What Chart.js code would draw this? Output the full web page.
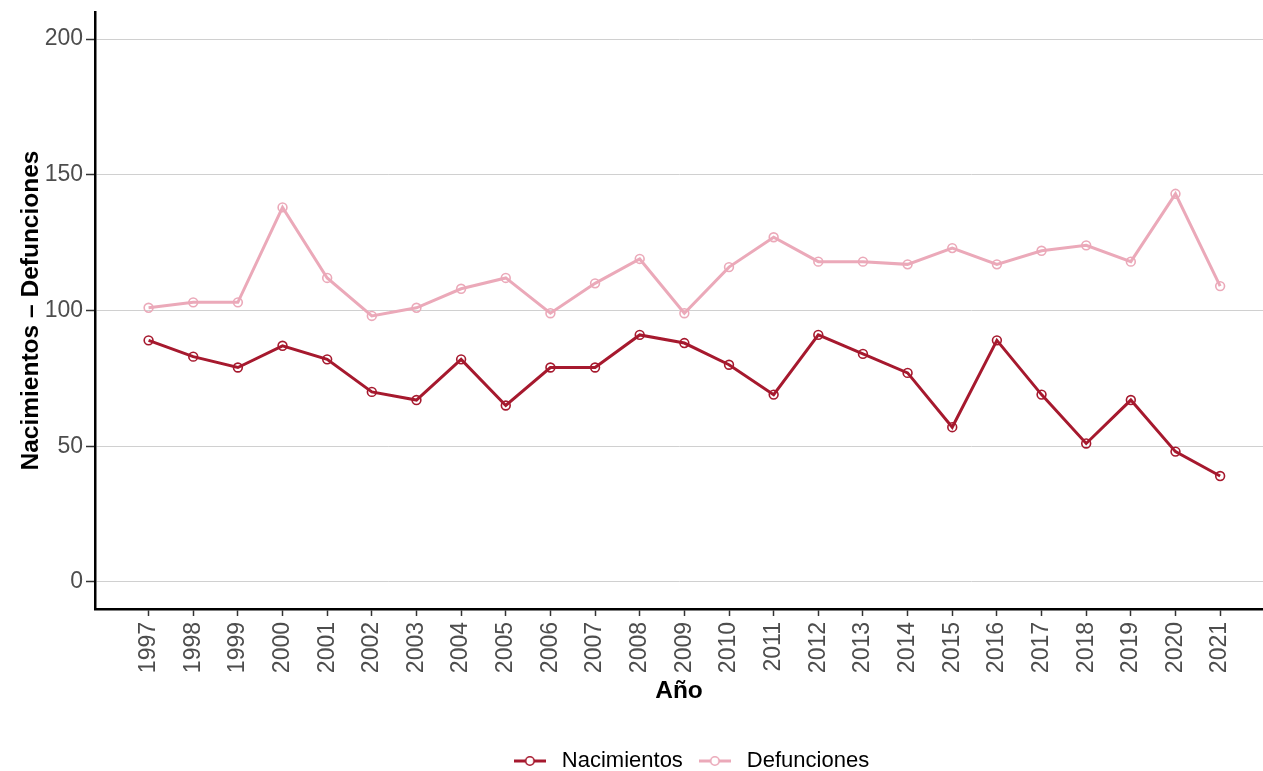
<!DOCTYPE html>
<html>
<head>
<meta charset="utf-8">
<script src="https://cdn.jsdelivr.net/npm/chart.js@4/dist/chart.umd.min.js"></script>
<style>
  html, body { margin: 0; padding: 0; background: #fff; }
  #wrap { width: 1263px; height: 771px; }
</style>
</head>
<body>
<div id="wrap"><canvas id="chart" width="1263" height="771"></canvas></div>
<script>
// data
var years = [1997, 1998, 1999, 2000, 2001, 2002, 2003, 2004, 2005, 2006, 2007, 2008, 2009,
             2010, 2011, 2012, 2013, 2014, 2015, 2016, 2017, 2018, 2019, 2020, 2021];
var nacimientos = [89, 83, 79, 87, 82, 70, 67, 82, 65, 79, 79, 91, 88,
                   80, 69, 91, 84, 77, 57, 89, 69, 51, 67, 48, 39];
var defunciones = [101, 103, 103, 138, 112, 98, 101, 108, 112, 99, 110, 119, 99,
                   116, 127, 118, 118, 117, 123, 117, 122, 124, 118, 143, 109];
var yTicks = [0, 50, 100, 150, 200];

var colNac = '#A6192E';
var colDef = '#EBA9B9';

function points(vals) {
    return vals.map(function (v, i) { return { x: years[i], y: v }; });
}

// line + circle glyph for the legend
function legendGlyph(color) {
    var c = document.createElement('canvas');
    c.width = 32; c.height = 14;
    var g = c.getContext('2d');
    g.strokeStyle = color;
    g.lineWidth = 3;
    g.beginPath(); g.moveTo(0, 7); g.lineTo(32, 7); g.stroke();
    g.fillStyle = '#fff';
    g.lineWidth = 1.6;
    g.beginPath(); g.arc(16, 7, 4.2, 0, Math.PI * 2); g.fill(); g.stroke();
    return c;
}

// ggplot centres the legend on the panel a bit to the right
var legendNudge = {
    id: 'legendNudge',
    afterLayout: function (ch) {
        if (ch.legend) { ch.legend.left += 10; ch.legend.right += 10; }
    }
};

Chart.defaults.font.family = '"Liberation Sans", Arial, sans-serif';

var ctx = document.getElementById('chart');
var chart = new Chart(ctx, {
    type: 'line',
    data: {
        datasets: [
            {
                label: 'Nacimientos',
                data: points(nacimientos),
                borderColor: colNac,
                borderWidth: 3,
                pointRadius: 4.4,
                pointBorderWidth: 1.6,
                pointBorderColor: colNac,
                pointBackgroundColor: 'rgba(255,255,255,0)',
                tension: 0
            },
            {
                label: 'Defunciones',
                data: points(defunciones),
                borderColor: colDef,
                borderWidth: 3,
                pointRadius: 4.4,
                pointBorderWidth: 1.6,
                pointBorderColor: colDef,
                pointBackgroundColor: 'rgba(255,255,255,0)',
                tension: 0
            }
        ]
    },
    plugins: [legendNudge],
    options: {
        responsive: false,
        animation: false,
        layout: { autoPadding: false, padding: { top: 12, right: 0, left: 0, bottom: -11 } },
        plugins: {
            tooltip: { enabled: false },
            legend: {
                position: 'bottom',
                fullSize: false,
                labels: {
                    usePointStyle: true,
                    pointStyleWidth: 42,
                    color: '#000',
                    font: { size: 22 },
                    padding: 11,
                    generateLabels: function (ch) {
                        return ch.data.datasets.map(function (ds, i) {
                            return {
                                text: ds.label,
                                pointStyle: legendGlyph(ds.borderColor),
                                fillStyle: ds.borderColor,
                                strokeStyle: ds.borderColor,
                                fontColor: '#000',
                                lineWidth: 0,
                                hidden: false,
                                datasetIndex: i
                            };
                        });
                    }
                }
            }
        },
        scales: {
            x: {
                type: 'linear',
                min: 1995.8,
                max: 2021.96,
                afterBuildTicks: function (axis) {
                    axis.ticks = years.map(function (y) { return { value: y }; });
                },
                afterFit: function (axis) { axis.height = 130; },
                ticks: {
                    autoSkip: false,
                    minRotation: 90,
                    maxRotation: 90,
                    color: '#4D4D4D',
                    font: { size: 23 },
                    padding: 6,
                    callback: function (v) { return String(v); }
                },
                grid: {
                    drawOnChartArea: false,
                    drawTicks: true,
                    tickLength: 7,
                    tickColor: '#333',
                    tickWidth: 1.5
                },
                border: { display: true, color: '#000', width: 2.5 },
                title: {
                    display: true,
                    text: 'Año',
                    color: '#000',
                    font: { size: 24.5, weight: 'bold' },
                    padding: { top: 0, bottom: 33 }
                }
            },
            y: {
                min: -10,
                max: 210,
                afterBuildTicks: function (axis) {
                    axis.ticks = yTicks.map(function (v) { return { value: v }; });
                },
                afterFit: function (axis) {
                    axis.width = 95;
                    axis.paddingTop = 0;
                    axis.paddingBottom = 0;
                },
                ticks: {
                    color: '#4D4D4D',
                    font: { size: 23, lineHeight: 0.8 },
                    padding: 3
                },
                grid: {
                    color: '#D0D0D0',
                    lineWidth: 1,
                    drawTicks: true,
                    tickLength: 9,
                    tickColor: '#333',
                    tickWidth: 1.5
                },
                border: { display: true, color: '#000', width: 2.5 },
                title: {
                    display: true,
                    text: 'Nacimientos \u2013 Defunciones',
                    color: '#000',
                    font: { size: 24.5, weight: 'bold' },
                    padding: { top: 17, bottom: 0 }
                }
            }
        }
    }
});
</script>
</body>
</html>
